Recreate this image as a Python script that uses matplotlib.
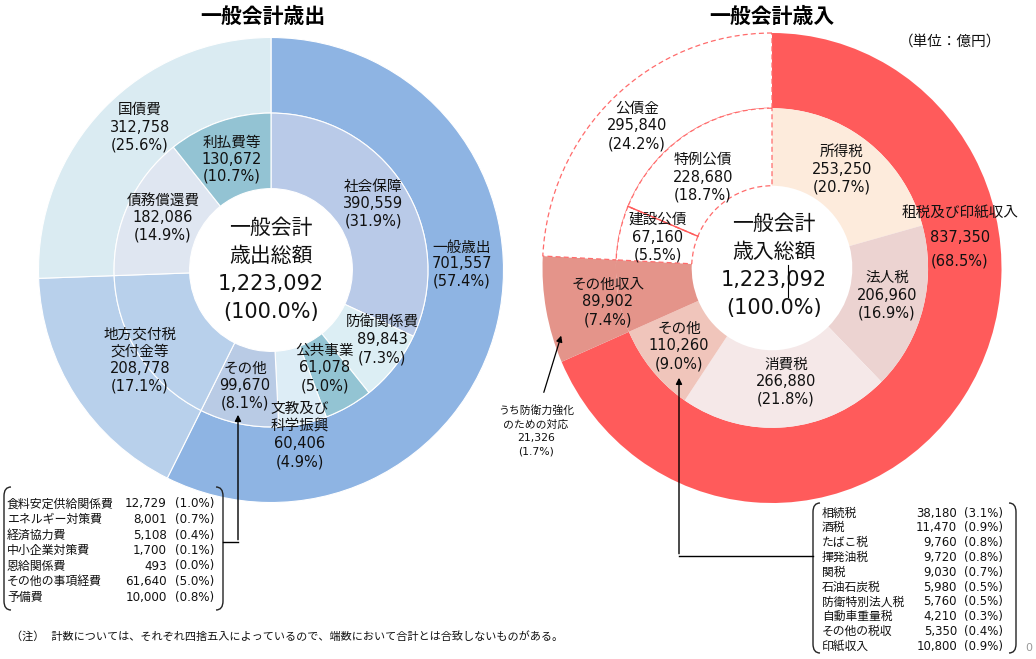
#!/usr/bin/env python3
"""
General account budget: expenditure / revenue double donut charts.
"""
import numpy as np
import matplotlib
matplotlib.use("Agg")
import matplotlib.pyplot as plt
from matplotlib.path import Path
from matplotlib.patches import PathPatch

plt.rcParams["font.family"] = ["DejaVu Sans", "Noto Sans CJK JP"]

W, H = 1036, 659

# ---- expenditure (歳出) ----
exp_outer_names = ["一般歳出", "地方交付税\n交付金等", "国債費"]
exp_outer_values = [701557, 208778, 312758]
exp_outer_pcts = [57.4, 17.1, 25.6]
exp_outer_colors = ["#8EB4E3", "#B8D0EB", "#DAEBF2"]

exp_inner_names = ["社会保障", "防衛関係費", "公共事業", "文教及び\n科学振興", "その他",
                   "地方交付税\n交付金等", "債務償還費", "利払費等"]
exp_inner_values = [390559, 89843, 61078, 60406, 99670, 208778, 182086, 130672]
exp_inner_pcts = [31.9, 7.3, 5.0, 4.9, 8.1, 17.1, 14.9, 10.7]
exp_inner_colors = ["#B9CAE8", "#DCEEF4", "#93C4D3", "#DDEDF6", "#B9CBE5",
                    "#B8D0EB", "#DFE6F1", "#93C3D3"]

exp_other_names = ["食料安定供給関係費", "エネルギー対策費", "経済協力費", "中小企業対策費",
                   "恩給関係費", "その他の事項経費", "予備費"]
exp_other_values = [12729, 8001, 5108, 1700, 493, 61640, 10000]
exp_other_pcts = [1.0, 0.7, 0.4, 0.1, 0.0, 5.0, 0.8]

# ---- revenue (歳入) ----
rev_outer_names = ["租税及び印紙収入", "その他収入", "公債金"]
rev_outer_values = [837350, 89902, 295840]
rev_outer_pcts = [68.5, 7.4, 24.2]
rev_outer_colors = ["#FF5B5B", "#E4948A", "#FFFFFF"]

rev_inner_names = ["所得税", "法人税", "消費税", "その他", "その他収入", "建設公債", "特例公債"]
rev_inner_values = [253250, 206960, 266880, 110260, 89902, 67160, 228680]
rev_inner_pcts = [20.7, 16.9, 21.8, 9.0, 7.4, 5.5, 18.7]
rev_inner_colors = ["#FDEBDC", "#ECD3D1", "#F5E8E8", "#F0C5BB", "#E4948A", "#FFFFFF", "#FFFFFF"]

rev_other_names = ["相続税", "酒税", "たばこ税", "揮発油税", "関税", "石油石炭税",
                   "防衛特別法人税", "自動車重量税", "その他の税収", "印紙収入"]
rev_other_values = [38180, 11470, 9760, 9720, 9030, 5980, 5760, 4210, 5350, 10800]
rev_other_pcts = [3.1, 0.9, 0.8, 0.8, 0.7, 0.5, 0.5, 0.3, 0.4, 0.9]

total = 1223092
defense_value, defense_pct = 21326, 1.7

# label placement (pixel centre x, centre y, line gap)
exp_label_pos = {
    "一般歳出": (462, 264, 16.5), "地方交付税\n交付金等": (140, 360, 17.5), "国債費": (140, 127, 18),
    "社会保障": (373, 204, 17), "防衛関係費": (382, 340, 18), "公共事業": (325, 368, 18),
    "文教及び\n科学振興": (300, 435, 17.7), "その他": (245, 386, 17.5),
    "債務償還費": (163, 218, 17.5), "利払費等": (232, 159, 17),
}
rev_label_pos = {
    "租税及び印紙収入": (960, 237, 24.5), "その他収入": (608, 302, 18), "公債金": (637, 126, 18),
    "所得税": (842, 169, 17.5), "法人税": (887, 295, 17.5), "消費税": (786, 382, 17.5),
    "その他": (679, 346, 18), "建設公債": (658, 237, 18), "特例公債": (703, 177, 17.5),
}

fig = plt.figure(figsize=(W / 100, H / 100), dpi=100)


def pie_axes(cx, cy, rx, ry):
    k = 1.03
    ax = fig.add_axes([(cx - rx * k) / W, 1 - (cy + ry * k) / H, 2 * rx * k / W, 2 * ry * k / H])
    return ax, k


def finish_pie(ax, k):
    ax.set_xlim(-k, k)
    ax.set_ylim(-k, k)
    ax.set_aspect("auto")
    ax.axis("off")


# left donut
axl, kl = pie_axes(271, 270, 232.5, 232.5)
axl.pie(exp_outer_values, colors=exp_outer_colors, radius=1.0, startangle=90, counterclock=False,
        wedgeprops=dict(width=0.325, edgecolor="white", linewidth=0.8))
axl.pie(exp_inner_values, colors=exp_inner_colors, radius=0.675, startangle=90, counterclock=False,
        wedgeprops=dict(width=0.325, edgecolor="white", linewidth=0.8))
finish_pie(axl, kl)

# right donut (slightly taller than wide in the source)
axr, kr = pie_axes(772, 268, 229.5, 235)
dash = (0, (4, 2.5))
wo, _ = axr.pie(rev_outer_values, colors=rev_outer_colors, radius=1.0, startangle=90, counterclock=False,
                wedgeprops=dict(width=0.32, linewidth=0))
wi, _ = axr.pie(rev_inner_values, colors=rev_inner_colors, radius=0.68, startangle=90, counterclock=False,
                wedgeprops=dict(width=0.33, linewidth=0))
for w, c in list(zip(wo, rev_outer_colors)) + list(zip(wi, rev_inner_colors)):
    if c == "#FFFFFF":
        w.set_edgecolor("#FF6B6B")
        w.set_linewidth(0.9)
        w.set_linestyle(dash)
        w.set_zorder(3)
# solid divider between 建設公債 and 特例公債
cum = sum(rev_inner_values[:6]) / sum(rev_inner_values)
th = np.deg2rad(90 - 360 * cum)
axr.plot([0.35 * np.cos(th), 0.68 * np.cos(th)], [0.35 * np.sin(th), 0.68 * np.sin(th)],
         color="#FF5A5A", lw=1.0, zorder=4)
finish_pie(axr, kr)

# overlay for texts in pixel coordinates
ov = fig.add_axes([0, 0, 1, 1])
ov.set_xlim(0, W)
ov.set_ylim(H, 0)
ov.axis("off")

TXT = "#111111"


def label(x, yc, gap, lines, size=10.5):
    n = len(lines)
    for i, s in enumerate(lines):
        ov.text(x, yc + (i - (n - 1) / 2) * gap, s, ha="center", va="center",
                fontsize=size, color=TXT)


def seg_lines(name, value, pct):
    return name.split("\n") + [f"{value:,}", f"({pct:.1f}%)"]


def ring_labels(groups, positions):
    done = set()
    for names, values, pcts in groups:
        for n, v, p in zip(names, values, pcts):
            if n in positions and n not in done:
                done.add(n)
                x, y, g = positions[n]
                label(x, y, g, seg_lines(n, v, p))


ring_labels([(exp_outer_names, exp_outer_values, exp_outer_pcts),
             (exp_inner_names, exp_inner_values, exp_inner_pcts)], exp_label_pos)
ring_labels([(rev_outer_names, rev_outer_values, rev_outer_pcts),
             (rev_inner_names, rev_inner_values, rev_inner_pcts)], rev_label_pos)

# centre totals
label(271, 270, 28, ["一般会計", "歳出総額", f"{total:,}", "(100.0%)"], size=15)
label(774, 266, 28, ["一般会計", "歳入総額", f"{total:,}", "(100.0%)"], size=15)
ov.plot([788, 788], [265, 297], color="black", lw=0.8)

# titles
ov.text(263, 17, "一般会計歳出", ha="center", va="center", fontsize=15, fontweight="bold", color="black")
ov.text(772, 17, "一般会計歳入", ha="center", va="center", fontsize=15, fontweight="bold", color="black")
ov.text(950, 41, "（単位：億円）", ha="center", va="center", fontsize=10.5, color=TXT)

# defense note
label(536, 431, 13.5, ["うち防衛力強化", "のための対応", f"{defense_value:,}", f"({defense_pct:.1f}%)"], size=7.8)
ov.annotate("", xy=(562, 333), xytext=(543, 395),
            arrowprops=dict(arrowstyle="-|>", color="black", lw=0.9, mutation_scale=9))


def bracket(x, y0, y1, side):
    dx, dy = 7, 9
    verts = [(x + side * dx, y0), (x, y0), (x, y0 + dy), (x, y1 - dy), (x, y1), (x + side * dx, y1)]
    codes = [Path.MOVETO, Path.CURVE3, Path.CURVE3, Path.LINETO, Path.CURVE3, Path.CURVE3]
    ov.add_patch(PathPatch(Path(verts, codes), fill=False, edgecolor="#222222", lw=1.0))


# left breakdown box
bracket(4, 487, 610, 1)
bracket(223, 487, 610, -1)
for i, (n, v, p) in enumerate(zip(exp_other_names, exp_other_values, exp_other_pcts)):
    y = 504 + i * 15.5
    ov.text(7, y, n, ha="left", va="center", fontsize=8.6, color=TXT)
    ov.text(167, y, f"{v:,}", ha="right", va="center", fontsize=8.6, color=TXT)
    ov.text(175, y, f"({p:.1f}%)", ha="left", va="center", fontsize=8.6, color=TXT)
ov.plot([223, 238], [542, 542], color="black", lw=1.0)
ov.annotate("", xy=(238, 412), xytext=(238, 542.5),
            arrowprops=dict(arrowstyle="-|>", color="black", lw=1.0, mutation_scale=9))

# right breakdown box
bracket(813, 503, 653, 1)
bracket(1016, 503, 653, -1)
for i, (n, v, p) in enumerate(zip(rev_other_names, rev_other_values, rev_other_pcts)):
    y = 513 + i * 14.8
    ov.text(822, y, n, ha="left", va="center", fontsize=8.5, color=TXT)
    ov.text(957, y, f"{v:,}", ha="right", va="center", fontsize=8.5, color=TXT)
    ov.text(964, y, f"({p:.1f}%)", ha="left", va="center", fontsize=8.5, color=TXT)
ov.plot([813, 679], [556, 556], color="black", lw=1.0)
ov.annotate("", xy=(679, 375), xytext=(679, 556.5),
            arrowprops=dict(arrowstyle="-|>", color="black", lw=1.0, mutation_scale=9))

ov.text(1029, 648, "0", ha="center", va="center", fontsize=8, color="#999999")

# footnote
ov.text(11, 636, "（注）  計数については、それぞれ四捨五入によっているので、端数において合計とは合致しないものがある。",
        ha="left", va="center", fontsize=8, color=TXT)

fig.savefig("out.png", dpi=100)
plt.close(fig)
